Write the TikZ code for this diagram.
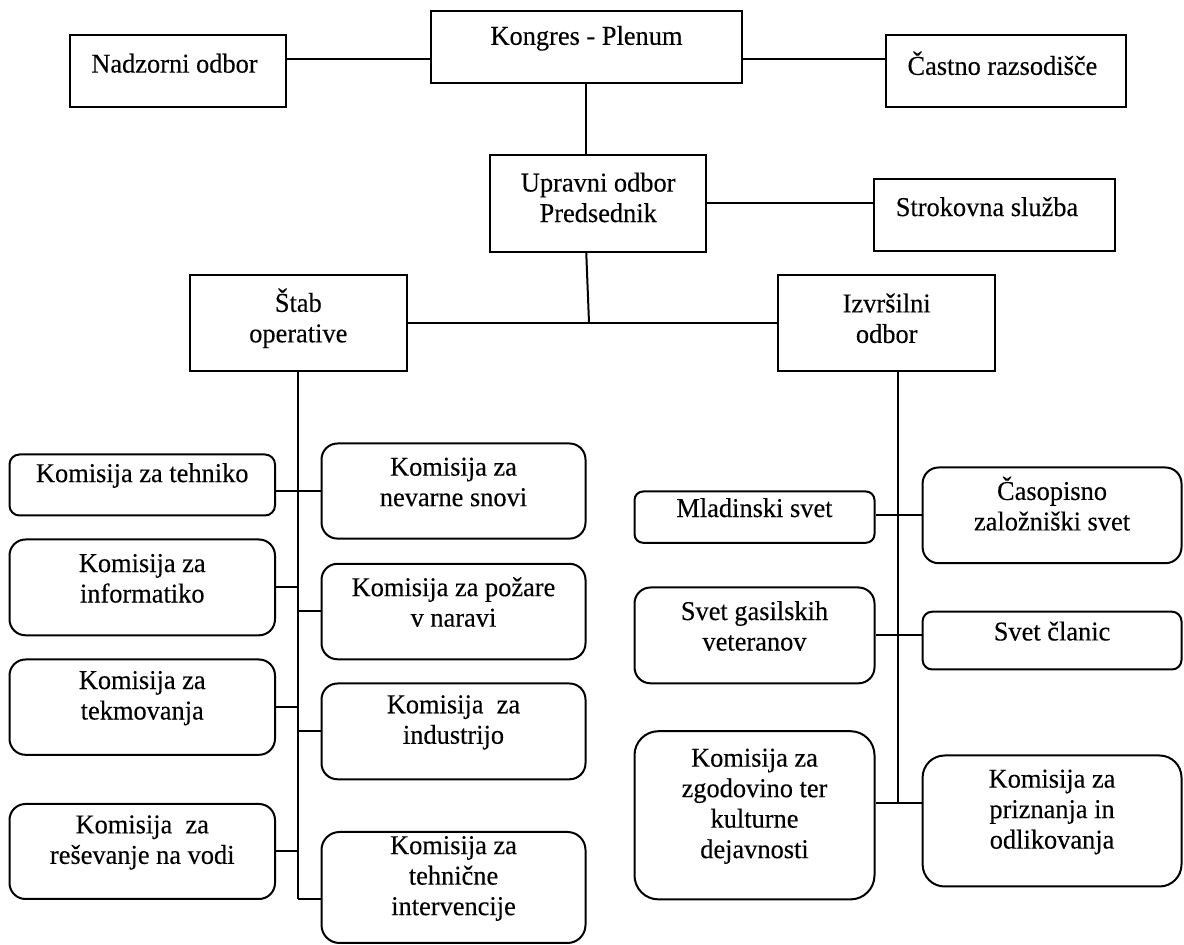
\documentclass[tikz,border=0pt]{standalone}
\usepackage{fontspec}
\setmainfont{Liberation Serif}[FakeStretch=0.97, FakeBold=0.25]
\usetikzlibrary{fit}
\begin{document}
\begin{tikzpicture}[x=0.5pt,y=-0.5pt,
  line width=1pt,
  font=\fontsize{13.6}{15.25}\selectfont,
  sqbox/.style={draw, inner sep=0pt},
  rbox/.style={draw, inner sep=0pt, rounded corners=#1, align=center},
  rbox/.default=8pt,
  lbl/.style={align=center, inner sep=0pt}]
\useasboundingbox (0,0) rectangle (1184,945);

% ---- top level: rectangular boxes, text set near the top ----
\node[sqbox, fit={(430.5,11) (742,83)}] (kon) {};
\node[lbl] (kon-t) at (586.5,38.3) {Kongres - Plenum};
\node[sqbox, fit={(69.7,35) (286.3,107.3)}] (nad) {};
\node[lbl] (nad-t) at (174.5,63.3) {Nadzorni odbor};
\node[sqbox, fit={(886,35) (1126.2,107.3)}] (cas) {};
\node[lbl] (cas-t) at (1002.4,63.3) {Častno razsodišče};
\node[sqbox, fit={(490,155) (706.3,251.7)}] (upr) {};
\node[lbl] (upr-t) at (598.2,197.5) {Upravni odbor\\Predsednik};
\node[sqbox, fit={(874,179) (1114.7,251)}] (str) {};
\node[lbl] (str-t) at (987,206.7) {Strokovna služba};
\node[sqbox, fit={(190.2,275.3) (406.5,371)}] (stab) {};
\node[lbl] (stab-t) at (298.3,318.3) {Štab\\operative};
\node[sqbox, fit={(778.4,275.3) (995,371)}] (izv) {};
\node[lbl] (izv-t) at (886.7,318.3) {Izvršilni\\odbor};

% ---- commissions under the Štab operative ----
\node[rbox=5pt, fit={(9.5,454.5) (275,515.5)}] (l1) {Komisija za tehniko};
\node[rbox, fit={(9.5,539.5) (275,635.3)}] (l2) {Komisija za\\informatiko};
\node[rbox, fit={(9.5,659.5) (275,754.8)}] (l3) {Komisija za\\tekmovanja};
\node[rbox, fit={(9.5,804) (275,899)}] (l4) {Komisija\ \ za\\reševanje na vodi};
\node[rbox, fit={(321.5,443.5) (585.5,538.6)}] (r1) {Komisija za\\nevarne snovi};
\node[rbox, fit={(321.5,563.8) (585.5,659.3)}] (r2) {Komisija za požare\\v naravi};
\node[rbox, fit={(321.5,683.5) (585.5,779.3)}] (r3) {Komisija\ \ za\\industrijo};
\node[rbox=9pt, fit={(321.5,832) (585.5,943)}] (r4) {Komisija za\\tehnične\\intervencije};

% ---- councils under the Izvršilni odbor ----
\node[rbox=4.3pt, fit={(634.5,491.5) (874.5,542.8)}] (m1) {Mladinski svet};
\node[rbox, fit={(634.5,587.5) (874.5,683.3)}] (m2) {Svet gasilskih\\veteranov};
\node[rbox=12pt, fit={(634.5,731.2) (874.5,899.4)}] (m3) {Komisija za\\zgodovino ter\\kulturne\\dejavnosti};
\node[rbox, fit={(922.6,467.5) (1181.5,563.2)}] (n1) {Časopisno\\založniški svet};
\node[rbox=4.8pt, fit={(922.6,611.7) (1181.5,669.5)}] (n2) {Svet članic};
\node[rbox=11pt, fit={(922.6,755.5) (1181.5,886.5)}] (n3) {Komisija za\\priznanja in\\odlikovanja};

% ---- levels of the connecting lines ----
\coordinate (ytop) at (0,59.3);
\coordinate (ystr) at (0,202.7);
\coordinate (jn) at (589,322.7);
\coordinate (ya) at (0,491);
\coordinate (yb) at (0,587.3);
\coordinate (yc) at (0,611.5);
\coordinate (yd) at (0,707.5);
\coordinate (ye) at (0,731.2);
\coordinate (yf) at (0,851.5);
\coordinate (yg) at (0,899);
\coordinate (rsp) at (898.2,0);
\coordinate (yh) at (0,515.3);
\coordinate (yi) at (0,635.5);
\coordinate (yj) at (0,803.4);

% top connectors
\draw (nad.east |- ytop) -- (kon.west |- ytop);
\draw (kon.east |- ytop) -- (cas.west |- ytop);
\draw (kon.south) -- (kon.south |- upr.north);
\draw (upr.east |- ystr) -- (str.west |- ystr);
\draw (kon.south |- upr.south) -- (jn);
\draw (stab.east |- jn) -- (izv.west |- jn);

% left spine and branches
\draw (stab.south) -- (stab.south |- yg);
\draw (l1.east |- ya) -- (r1.west |- ya);
\draw (l2.east |- yb) -- (stab.south |- yb);
\draw (stab.south |- yc) -- (r2.west |- yc);
\draw (l3.east |- yd) -- (stab.south |- yd);
\draw (stab.south |- ye) -- (r3.west |- ye);
\draw (l4.east |- yf) -- (stab.south |- yf);
\draw (stab.south |- yg) -- (r4.west |- yg);

% right spine and branches
\draw (izv.south -| rsp) -- (rsp |- yj);
\draw (m1.east |- yh) -- (n1.west |- yh);
\draw (m2.east |- yi) -- (n2.west |- yi);
\draw (m3.east |- yj) -- (n3.west |- yj);
\end{tikzpicture}
\end{document}
